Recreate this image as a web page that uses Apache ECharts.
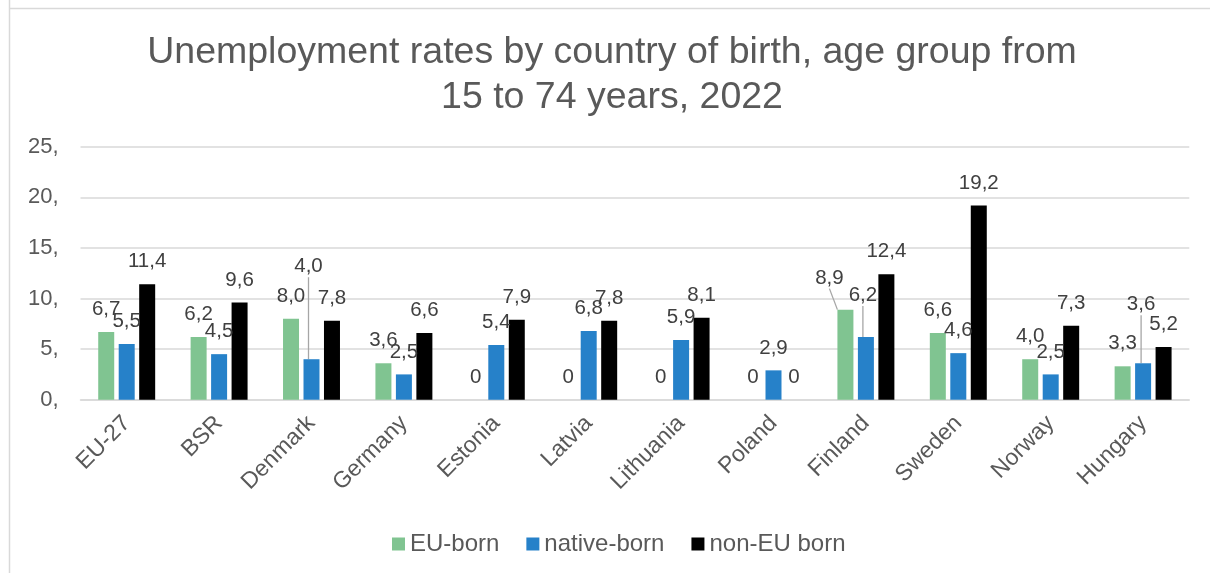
<!DOCTYPE html>
<html>
<head>
<meta charset="utf-8">
<script src="https://cdn.jsdelivr.net/npm/echarts@6/dist/echarts.min.js"></script>
<style>
html,body{margin:0;padding:0;background:#fff;}
#c{width:1210px;height:573px;}
</style>
</head>
<body>
<div id="c"></div>
<script>
const categories = ['EU-27','BSR','Denmark','Germany','Estonia','Latvia','Lithuania','Poland','Finland','Sweden','Norway','Hungary'];
const euBorn     = [6.7, 6.2, 8.0, 3.6, 0, 0, 0, 0, 8.9, 6.6, 4.0, 3.3];
const nativeBorn = [5.5, 4.5, 4.0, 2.5, 5.4, 6.8, 5.9, 2.9, 6.2, 4.6, 2.5, 3.6];
const nonEuBorn  = [11.4, 9.6, 7.8, 6.6, 7.9, 7.8, 8.1, 0, 12.4, 19.2, 7.3, 5.2];
const yTicks = [0, 5, 10, 15, 20, 25];
const seriesNames = ['EU-born', 'native-born', 'non-EU born'];

// label nudges (seriesIndex-dataIndex -> [dx, dy]) for labels Excel moved with leader lines
const labelMoves = {
  '1-2': [-3, -70],
  '0-8': [-16, -9],
  '1-8': [-3, -19],
  '1-11': [-2, -36]
};

const FONT = "'Liberation Sans', Arial, sans-serif";
const colors = ['#80C491', '#2681C9', '#000000'];

function buildData(values, si) {
  return values.map((v, i) => {
    const key = si + '-' + i;
    if (labelMoves[key]) {
      return { value: v, labelLine: { show: true, lineStyle: { color: '#a6a6a6', width: 1.3 } } };
    }
    return { value: v, labelLine: { show: false } };
  });
}

const chart = echarts.init(document.getElementById('c'), null, { renderer: 'canvas' });
const seriesVals = [euBorn, nativeBorn, nonEuBorn];
const option = {
  animation: false,
  backgroundColor: '#ffffff',
  title: {
    text: 'Unemployment rates by country of birth, age group from\n15 to 74 years, 2022',
    left: 607,
    textAlign: 'center',
    top: 25,
    textStyle: { fontFamily: FONT, fontSize: 37.5, fontWeight: 'normal', color: '#595959', lineHeight: 45 }
  },
  legend: {
    data: seriesNames,
    left: 387,
    top: 527,
    itemWidth: 13,
    itemHeight: 13,
    itemGap: 27,
    icon: 'rect',
    textStyle: { fontFamily: FONT, fontSize: 24, color: '#595959', padding: [0, 0, 0, 0] }
  },
  graphic: [
    { type: 'line', shape: { x1: 9.5, y1: 0, x2: 9.5, y2: 573 }, style: { stroke: '#d9d9d9', lineWidth: 1.5 }, silent: true },
    { type: 'line', shape: { x1: 9, y1: 8.5, x2: 1210, y2: 8.5 }, style: { stroke: '#d9d9d9', lineWidth: 1.5 }, silent: true }
  ],
  grid: { left: 80.5, right: 20.7, top: 146.7, bottom: 173.3, containLabel: false },
  xAxis: {
    type: 'category',
    data: categories,
    axisTick: { show: false },
    axisLine: { lineStyle: { color: '#d9d9d9', width: 1.5 } },
    axisLabel: { rotate: 45, margin: 20, fontFamily: FONT, fontSize: 23, color: '#595959', interval: 0 }
  },
  yAxis: {
    type: 'value',
    min: yTicks[0],
    max: yTicks[yTicks.length - 1],
    interval: 5,
    axisLine: { show: false },
    axisTick: { show: false },
    splitLine: { lineStyle: { color: '#d9d9d9', width: 1.5 } },
    axisLabel: { margin: 22, fontFamily: FONT, fontSize: 22, color: '#595959', formatter: v => v + ',' }
  },
  series: seriesVals.map((vals, si) => ({
    name: seriesNames[si],
    type: 'bar',
    barWidth: 16,
    barGap: '28%',
    itemStyle: { color: colors[si] },
    data: buildData(vals, si),
    label: {
      show: true,
      position: 'top',
      distance: 12,
      fontFamily: FONT,
      fontSize: 20.5,
      color: '#404040',
      formatter: p => (p.value === 0 ? '0' : p.value.toFixed(1).replace('.', ','))
    },
    labelLayout: function (params) {
      const m = labelMoves[params.seriesIndex + '-' + params.dataIndex];
      if (m) return { dx: m[0], dy: m[1] };
      return {};
    }
  }))
};
chart.setOption(option);
</script>
</body>
</html>
